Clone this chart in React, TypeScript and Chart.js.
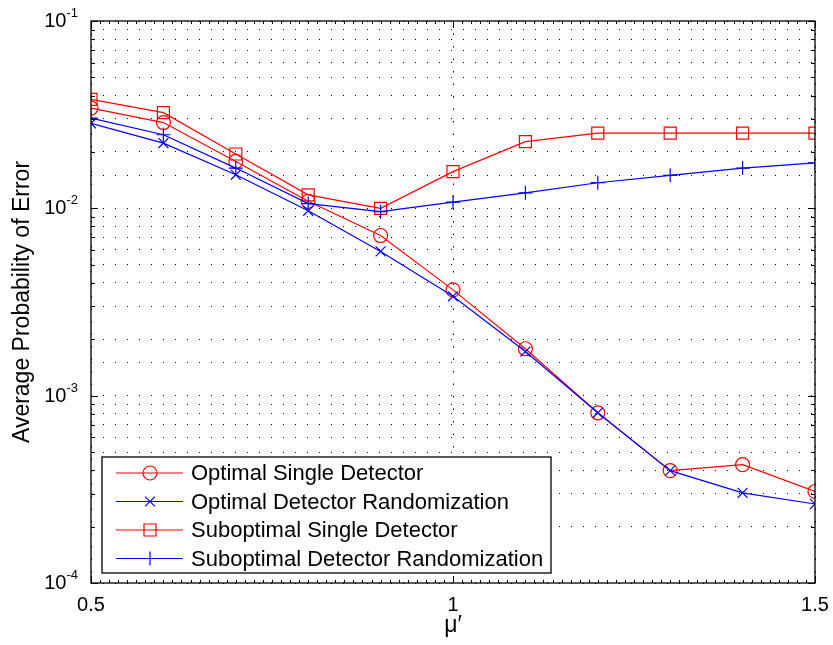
import React, { useEffect, useRef } from "react";
import { Chart, registerables } from "chart.js";

Chart.register(...registerables);

const muValues = [0.5, 0.6, 0.7, 0.8, 0.9, 1.0, 1.1, 1.2, 1.3, 1.4, 1.5];
const optimalSingle = [0.0343, 0.0287, 0.0178, 0.0109, 0.00716, 0.00367, 0.00178, 0.00081, 0.000398, 0.000428, 0.000308];
const optimalRandom = [0.0284, 0.0223, 0.0151, 0.0097, 0.00589, 0.00339, 0.00172, 0.00081, 0.000398, 0.000303, 0.000264];
const suboptimalSingle = [0.0382, 0.0324, 0.0195, 0.0118, 0.01, 0.0157, 0.0227, 0.0252, 0.0252, 0.0252, 0.0252];
const suboptimalRandom = [0.0303, 0.0247, 0.0164, 0.0106, 0.0096, 0.0108, 0.0121, 0.0137, 0.015, 0.0164, 0.0175];
const seriesNames = [
  "Optimal Single Detector",
  "Optimal Detector Randomization",
  "Suboptimal Single Detector",
  "Suboptimal Detector Randomization",
];
const xTickValues = [0.5, 1, 1.5];
const xTickLabels = ["0.5", "1", "1.5"];
const yDecades = [-4, -3, -2, -1];
const xTitle = "\u03bc\u2032";
const yTitle = "Average Probability of Error";

const RED = "#ff0000";
const BLUE = "#0000ff";
const FONT = "Liberation Sans, Arial, Helvetica, sans-serif";

function drawMarker(ctx: CanvasRenderingContext2D, style: string, x: number, y: number, r: number, color: string) {
  ctx.save();
  ctx.strokeStyle = color;
  ctx.lineWidth = 1.2;
  ctx.beginPath();
  if (style === "circle") {
    ctx.arc(x, y, r, 0, Math.PI * 2);
  } else if (style === "rect") {
    const s = r * Math.SQRT1_2;
    ctx.rect(x - s, y - s, 2 * s, 2 * s);
  } else if (style === "crossRot") {
    const s = r * Math.SQRT1_2;
    ctx.moveTo(x - s, y - s);
    ctx.lineTo(x + s, y + s);
    ctx.moveTo(x - s, y + s);
    ctx.lineTo(x + s, y - s);
  } else if (style === "cross") {
    ctx.moveTo(x - r, y);
    ctx.lineTo(x + r, y);
    ctx.moveTo(x, y - r);
    ctx.lineTo(x, y + r);
  }
  ctx.stroke();
  ctx.restore();
}

const styles = [
  { style: "circle", r: 7, color: RED },
  { style: "crossRot", r: 7, color: BLUE },
  { style: "rect", r: 8.5, color: RED },
  { style: "cross", r: 7, color: BLUE },
];

const framePlugin = {
  id: "frame",
  afterDraw(chart: any) {
    const ctx: CanvasRenderingContext2D = chart.ctx;
    const { left, right, top, bottom } = chart.chartArea;
    const xs = chart.scales.x;
    const ys = chart.scales.y;
    ctx.save();
    // ticks (inward)
    ctx.strokeStyle = "#000";
    ctx.lineWidth = 1;
    ctx.beginPath();
    for (let v = 0.5; v <= 1.5001; v += 0.0125) {
      const px = Math.round(xs.getPixelForValue(v)) + 0.5;
      const isMajor = xTickValues.some((t) => Math.abs(t - v) < 1e-6);
      const len = isMajor ? 7 : 3;
      ctx.moveTo(px, bottom);
      ctx.lineTo(px, bottom - len);
      ctx.moveTo(px, top);
      ctx.lineTo(px, top + len);
    }
    for (const d of yDecades) {
      for (let m = 1; m <= 9; m++) {
        if (d === -1 && m > 1) break;
        const val = m * Math.pow(10, d);
        const py = Math.round(ys.getPixelForValue(val)) + 0.5;
        const len = m === 1 ? 7 : 4;
        ctx.moveTo(left, py);
        ctx.lineTo(left + len, py);
        ctx.moveTo(right, py);
        ctx.lineTo(right - len, py);
      }
    }
    ctx.stroke();
    // box
    ctx.lineWidth = 1.3;
    ctx.strokeRect(left, top, right - left, bottom - top);

    // y tick labels
    ctx.fillStyle = "#000";
    for (const d of yDecades) {
      const py = ys.getPixelForValue(Math.pow(10, d));
      const exp = "-" + String(-d);
      ctx.font = `13px ${FONT}`;
      const ew = ctx.measureText(exp).width;
      const ex = left - 13 - ew;
      ctx.textBaseline = "alphabetic";
      ctx.textAlign = "left";
      ctx.fillText(exp, ex, py - 4);
      ctx.font = `20px ${FONT}`;
      ctx.textAlign = "right";
      ctx.fillText("10", ex, py + 6);
    }
    // x tick labels
    ctx.font = `20px ${FONT}`;
    ctx.textAlign = "center";
    ctx.textBaseline = "alphabetic";
    xTickValues.forEach((v, i) => {
      ctx.fillText(xTickLabels[i], xs.getPixelForValue(v), bottom + 28);
    });
    // x title
    ctx.font = `23px ${FONT}`;
    ctx.fillText(xTitle, (left + right) / 2, bottom + 49);
    // y title
    ctx.save();
    ctx.translate(23, (top + bottom) / 2);
    ctx.rotate(-Math.PI / 2);
    ctx.font = `23px ${FONT}`;
    ctx.textAlign = "center";
    ctx.textBaseline = "middle";
    ctx.fillText(yTitle, 0, 0);
    ctx.restore();

    // legend
    const lx = 102, ly = 457, lw = 449, lh = 116;
    ctx.fillStyle = "#fff";
    ctx.fillRect(lx, ly, lw, lh);
    ctx.lineWidth = 1.3;
    ctx.strokeStyle = "#000";
    ctx.strokeRect(lx, ly, lw, lh);
    seriesNames.forEach((name, i) => {
      const cy = 473 + i * 28.5;
      const st = styles[i];
      ctx.strokeStyle = st.color;
      ctx.lineWidth = 1.2;
      ctx.beginPath();
      ctx.moveTo(116, cy);
      ctx.lineTo(183, cy);
      ctx.stroke();
      drawMarker(ctx, st.style, 150, cy, st.r, st.color);
      ctx.fillStyle = "#000";
      ctx.font = `22px ${FONT}`;
      ctx.textAlign = "left";
      ctx.textBaseline = "middle";
      ctx.fillText(name, 191, cy + 1);
    });
    ctx.restore();
  },
};

export default function App() {
  const canvasRef = useRef<HTMLCanvasElement | null>(null);
  useEffect(() => {
    document.body.style.margin = "0";
    const canvas = canvasRef.current;
    if (!canvas) return;
    const mk = (data: number[], i: number, order: number) => ({
      label: seriesNames[i],
      data: muValues.map((x, k) => ({ x, y: data[k] })),
      borderColor: styles[i].color,
      backgroundColor: "rgba(0,0,0,0)",
      pointBorderColor: styles[i].color,
      pointBackgroundColor: "rgba(0,0,0,0)",
      pointStyle: styles[i].style,
      pointRadius: styles[i].r,
      pointBorderWidth: 1.2,
      borderWidth: 1.2,
      tension: 0,
      order,
    });
    const chart = new Chart(canvas, {
      type: "line",
      data: {
        datasets: [
          mk(optimalSingle, 0, 3),
          mk(optimalRandom, 1, 2),
          mk(suboptimalSingle, 2, 1),
          mk(suboptimalRandom, 3, 0),
        ],
      },
      options: {
        responsive: false,
        animation: false,
        devicePixelRatio: 1,
        layout: { padding: { top: 21, right: 18, left: 0, bottom: 0 } },
        plugins: { legend: { display: false }, tooltip: { enabled: false } },
        scales: {
          x: {
            type: "linear",
            min: 0.5,
            max: 1.5,
            ticks: { stepSize: 0.5, display: false },
            border: { display: false, dash: [1.5, 11] } as any,
            grid: {
              drawTicks: false,
              color: "#000",
              lineWidth: 1,
            },
            afterFit: (s: any) => {
              s.height = 62;
            },
          },
          y: {
            type: "logarithmic",
            min: 0.0001,
            max: 0.1,
            ticks: { display: false },
            border: { display: false, dash: [1, 11] } as any,
            grid: {
              drawTicks: false,
              color: "#000",
              lineWidth: 1,
            },
            afterFit: (s: any) => {
              s.width = 91;
            },
          },
        },
      },
      plugins: [framePlugin],
    } as any);
    return () => chart.destroy();
  }, []);
  return (
    <div style={{ width: 833, height: 645, background: "#fff" }}>
      <canvas ref={canvasRef} width={833} height={645} style={{ display: "block" }} />
    </div>
  );
}
